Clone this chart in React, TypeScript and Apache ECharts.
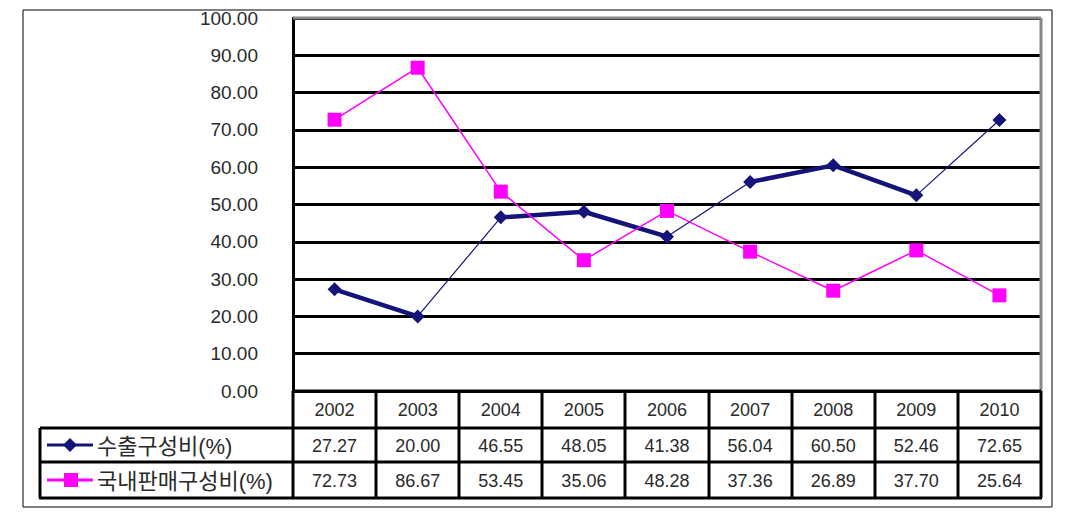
import React, { useEffect, useRef } from "react";
import * as echarts from "echarts";

const years = ["2002", "2003", "2004", "2005", "2006", "2007", "2008", "2009", "2010"];
const exportShare = [27.27, 20.0, 46.55, 48.05, 41.38, 56.04, 60.5, 52.46, 72.65];
const domesticShare = [72.73, 86.67, 53.45, 35.06, 48.28, 37.36, 26.89, 37.7, 25.64];
const seriesNames = ["수출구성비(%)", "국내판매구성비(%)"];
// runs of the export line that look heavier in the reference
const heavyRuns = [[0, 1], [2, 3, 4], [5, 6, 7]];

const W = 1071;
const H = 529;
const GL = 293;
const GR = 1041;
const GT = 18;
const GB = 391;
const TL = 40;
const ROWS = [391, 428, 462, 498];
const NAVY = "#14147a";
const MAG = "#ff00ff";
const FONT = "'Liberation Sans', Arial, 'Noto Sans CJK KR', sans-serif";
const TXT = "#2a2a2a";

export default function App() {
  const ref = useRef<HTMLDivElement>(null);
  useEffect(() => {
    if (!ref.current) return;
    const chart = echarts.init(ref.current, null, { renderer: "svg" });
    const colW = (GR - GL) / years.length;
    const graphics: any[] = [];
    const line = (x1: number, y1: number, x2: number, y2: number, color = "#000", w = 3) =>
      graphics.push({
        type: "line",
        z: 10,
        shape: { x1, y1, x2, y2 },
        style: { stroke: color, lineWidth: w },
      });
    // outer frame
    graphics.push({
      type: "rect",
      z: 10,
      shape: { x: 23, y: 10, width: 1029, height: 497 },
      style: { fill: "none", stroke: "#000", lineWidth: 1 },
    });
    // plot top / right gray border
    line(GL, GT, GR, GT, "#888", 3);
    line(GR, GT, GR, GB, "#888", 3);
    // table horizontals
    line(GL, ROWS[0], GR, ROWS[0]);
    line(TL, ROWS[1], GR + 1, ROWS[1]);
    line(TL, ROWS[2], GR + 1, ROWS[2]);
    line(TL - 1, ROWS[3], GR + 1, ROWS[3]);
    // table verticals
    line(TL, ROWS[1], TL, ROWS[3]);
    for (let i = 0; i <= years.length; i++) {
      const x = Math.round(GL + colW * i);
      line(x, ROWS[0], x, ROWS[3]);
    }
    const rowData = [exportShare, domesticShare];
    rowData.forEach((arr, r) => {
      const cy = (ROWS[r + 1] + ROWS[r + 2]) / 2;
      arr.forEach((v, i) => {
        graphics.push({
          type: "text",
          z: 10,
          x: GL + colW * (i + 0.5),
          y: cy + 1,
          style: {
            text: v.toFixed(2),
            fill: TXT,
            font: `18px ${FONT}`,
            align: "center",
            verticalAlign: "middle",
          },
        });
      });
      // legend key
      line(47, cy, 93, cy, r === 0 ? NAVY : MAG, 3);
      graphics.push({
        type: r === 0 ? "polygon" : "rect",
        z: 11,
        ...(r === 0
          ? { shape: { points: [[70, cy - 7], [77, cy], [70, cy + 7], [63, cy]] } }
          : { shape: { x: 64, y: cy - 7, width: 14, height: 14 } }),
        style: { fill: r === 0 ? NAVY : MAG },
      });
      graphics.push({
        type: "text",
        z: 10,
        x: 97,
        y: cy + 1,
        style: {
          text: seriesNames[r],
          fill: TXT,
          font: `22px ${FONT}`,
          align: "left",
          verticalAlign: "middle",
        },
      });
    });

    const heavySeries = heavyRuns.map((run) => ({
      type: "line",
      z: 1,
      silent: true,
      symbol: "none",
      connectNulls: false,
      lineStyle: { color: NAVY, width: 4.5 },
      data: exportShare.map((v, i) => (run.includes(i) ? v : null)),
    }));

    chart.setOption({
      animation: false,
      grid: { left: GL, right: W - GR, top: GT, bottom: H - GB },
      xAxis: {
        type: "category",
        data: years,
        boundaryGap: true,
        axisLine: { show: false },
        axisTick: { show: false },
        axisLabel: { margin: 10, color: TXT, fontSize: 18, fontFamily: FONT },
      },
      yAxis: {
        type: "value",
        min: 0,
        max: 100,
        interval: 10,
        axisLine: { show: true, lineStyle: { color: "#000", width: 3 } },
        axisTick: { show: false },
        axisLabel: {
          margin: 35,
          color: TXT,
          fontSize: 19,
          fontFamily: FONT,
          formatter: (v: number) => v.toFixed(2),
        },
        splitLine: { show: true, lineStyle: { color: "#000", width: 3 } },
      },
      series: [
        ...heavySeries,
        {
          name: seriesNames[0],
          type: "line",
          z: 3,
          data: exportShare,
          symbol: "diamond",
          symbolSize: 14,
          itemStyle: { color: NAVY },
          lineStyle: { color: NAVY, width: 1.2 },
        },
        {
          name: seriesNames[1],
          type: "line",
          z: 3,
          data: domesticShare,
          symbol: "rect",
          symbolSize: 14,
          itemStyle: { color: MAG },
          lineStyle: { color: MAG, width: 1.5 },
        },
      ],
      graphic: graphics,
    });
    return () => chart.dispose();
  }, []);
  return (
    <div
      ref={ref}
      style={{ position: "fixed", left: 0, top: 0, width: W, height: H, background: "#fff" }}
    />
  );
}
